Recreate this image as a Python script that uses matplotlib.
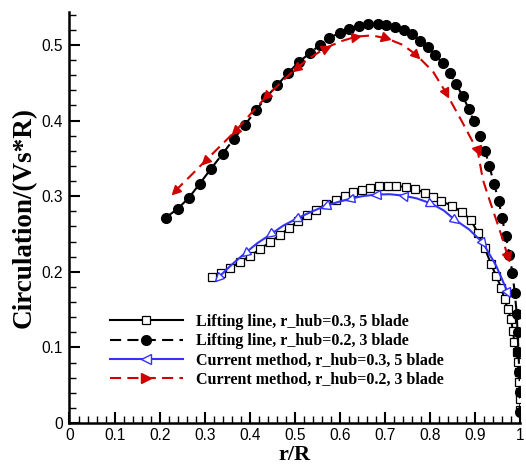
import numpy as np
import matplotlib
matplotlib.use("Agg")
import matplotlib.pyplot as plt
from matplotlib.lines import Line2D
from matplotlib.markers import MarkerStyle
from matplotlib.transforms import Affine2D

plt.rcParams['lines.scale_dashes'] = False

# ---- data ----
ll3_r = [0.315, 0.3349, 0.357, 0.3776, 0.3998, 0.4219, 0.4441, 0.4662, 0.4868, 0.5068,
         0.5267, 0.5475, 0.5697, 0.5903, 0.6102, 0.6286, 0.6485, 0.6671, 0.6862, 0.7061,
         0.7247, 0.7453, 0.7652, 0.7874, 0.8058, 0.8244, 0.8472, 0.8693, 0.8893, 0.9054,
         0.9203, 0.9351, 0.9462, 0.9572, 0.9646, 0.9719, 0.9794, 0.983, 0.9867, 0.9918,
         0.994, 0.9962, 0.9978, 0.999, 0.9995, 0.9999]
ll3_g = [0.1935, 0.1988, 0.2054, 0.2128, 0.2207, 0.2296, 0.2392, 0.248, 0.2582, 0.2669,
         0.2751, 0.2823, 0.2893, 0.2946, 0.2999, 0.3051, 0.3087, 0.3113, 0.3131, 0.314,
         0.3131, 0.3123, 0.3096, 0.3047, 0.2991, 0.2933, 0.2876, 0.279, 0.2691, 0.2516,
         0.2318, 0.2098, 0.1943, 0.179, 0.1636, 0.1504, 0.1372, 0.1218, 0.1065, 0.0933,
         0.0801, 0.0669, 0.0537, 0.0405, 0.0317, 0.0175]

ll2_r = [0.213, 0.2397, 0.2647, 0.289, 0.3134, 0.3393, 0.3643, 0.3898, 0.4131, 0.4368,
         0.4611, 0.4846, 0.5083, 0.5327, 0.5548, 0.5754, 0.5991, 0.6197, 0.6419, 0.6627,
         0.6833, 0.7026, 0.7216, 0.7409, 0.7593, 0.7779, 0.7947, 0.8111, 0.8272, 0.8428,
         0.8576, 0.8715, 0.8855, 0.8966, 0.9099, 0.9218, 0.9313, 0.9413, 0.9517, 0.959,
         0.9674, 0.9756, 0.9823, 0.9874, 0.9918, 0.9935, 0.9955, 0.9975, 0.999, 1.0]
ll2_g = [0.2714, 0.2832, 0.2978, 0.3166, 0.336, 0.3558, 0.3756, 0.3947, 0.4133, 0.431,
         0.4472, 0.4627, 0.4772, 0.489, 0.4996, 0.5088, 0.5162, 0.5211, 0.5255, 0.5277,
         0.5281, 0.5268, 0.5241, 0.5194, 0.5141, 0.5057, 0.4974, 0.4868, 0.4759, 0.4627,
         0.4482, 0.4323, 0.4156, 0.3988, 0.3796, 0.3592, 0.3394, 0.316, 0.2942, 0.2714,
         0.2471, 0.2223, 0.1979, 0.1715, 0.1438, 0.1197, 0.0933, 0.0669, 0.0405, 0.0141]

cm3_r = [0.3296, 0.359, 0.3887, 0.417, 0.4456, 0.474, 0.5032, 0.535, 0.5659, 0.594,
         0.6213, 0.65, 0.6804, 0.71, 0.7393, 0.77, 0.8022, 0.83, 0.8538, 0.886,
         0.9165, 0.946, 0.9719]
cm3_g = [0.1922, 0.209, 0.2243, 0.238, 0.2493, 0.261, 0.2701, 0.279, 0.2867, 0.292,
         0.2964, 0.300, 0.3021, 0.3025, 0.3008, 0.297, 0.2902, 0.281, 0.2691, 0.256,
         0.2384, 0.208, 0.1724]
cm3_marks = [0, 2, 4, 6, 8, 10, 12, 14, 16, 18, 20, 22]

cm2_r = [0.2337, 0.267, 0.3001, 0.334, 0.3677, 0.402, 0.4368, 0.47, 0.5032, 0.536,
         0.5697, 0.603, 0.6361, 0.67, 0.7026, 0.739, 0.769, 0.806, 0.8354, 0.872,
         0.9054, 0.9165, 0.931, 0.946, 0.9608, 0.9719]
cm2_g = [0.3065, 0.326, 0.346, 0.366, 0.3859, 0.409, 0.4318, 0.451, 0.4693, 0.484,
         0.4964, 0.505, 0.511, 0.5125, 0.5088, 0.500, 0.4868, 0.4648, 0.4363, 0.3967,
         0.3592, 0.322, 0.2955, 0.269, 0.2427, 0.2199]
cm2_marks = [0, 2, 4, 6, 8, 10, 12, 14, 16, 18, 20, 25]

labels = ["Lifting line, r_hub=0.3, 5 blade",
          "Lifting line, r_hub=0.2, 3 blade",
          "Current method, r_hub=0.3, 5 blade",
          "Current method, r_hub=0.2, 3 blade"]

x_ticks = [0, 0.1, 0.2, 0.3, 0.4, 0.5, 0.6, 0.7, 0.8, 0.9, 1]
x_ticklabels = ["0", "0.1", "0.2", "0.3", "0.4", "0.5", "0.6", "0.7", "0.8", "0.9", "1"]
y_ticks = [0, 0.1, 0.2, 0.3, 0.4, 0.5]
y_ticklabels = ["0", "0.1", "0.2", "0.3", "0.4", "0.5"]

BLUE = "#3333ff"
RED = "#d10000"
DASH = (8, 4.5)

fig = plt.figure(figsize=(5.26, 4.65), dpi=100)
ax_b = 42 / 465
ax_t = 1 - 12 / 465
ax = fig.add_axes([0.1321, ax_b, 0.8574, ax_t - ax_b])
ax.set_xlim(0, 1.0)
ax.set_ylim(0, 0.5435)

# lifting line curves
ax.plot(ll3_r, ll3_g, color="black", lw=1.5, marker="s", ms=5.6,
        mfc="white", mec="black", mew=0.9, zorder=3)
ax.plot(ll2_r, ll2_g, color="black", lw=1.5, dashes=DASH, marker="o", ms=7,
        mfc="black", mec="black", zorder=4)

# current method curves
ax.plot(cm3_r, cm3_g, color=BLUE, lw=1.5, zorder=5)
ax.plot(cm2_r, cm2_g, color=RED, lw=1.5, dashes=DASH, zorder=5)

fig.canvas.draw()

def arrow_markers(xs, ys, idx, backward_test, color, filled):
    pts = ax.transData.transform(np.column_stack([xs, ys]))
    n = len(xs)
    for i in idx:
        a = max(i - 1, 0)
        b = min(i + 1, n - 1)
        dx = pts[b, 0] - pts[a, 0]
        dy = pts[b, 1] - pts[a, 1]
        ang = np.degrees(np.arctan2(dy, dx))
        slope = (ys[b] - ys[a]) / (xs[b] - xs[a])
        if backward_test(slope):
            ang += 180
        m = MarkerStyle(">", transform=Affine2D().rotate_deg(ang))
        ax.plot([xs[i]], [ys[i]], linestyle="none", marker=m, ms=6.5,
                mfc=color if filled else "white", mec=color, mew=1.0, zorder=6)

arrow_markers(cm2_r, cm2_g, cm2_marks, lambda s: s > 0.4, RED, True)
arrow_markers(cm3_r, cm3_g, cm3_marks, lambda s: s > -0.2, BLUE, False)

# axes styling
for s in ["top", "right"]:
    ax.spines[s].set_visible(False)
for s in ["left", "bottom"]:
    ax.spines[s].set_linewidth(1.8)

ax.set_xticks(x_ticks)
ax.set_xticklabels(x_ticklabels)
ax.set_yticks(y_ticks)
ax.set_yticklabels(y_ticklabels)
ax.set_xticks(np.arange(0, 1.0001, 0.02), minor=True)
ax.set_yticks(np.arange(0, 0.5401, 0.02), minor=True)
ax.tick_params(which="major", direction="in", length=7.7, width=1.5,
               labelsize=11.2, pad=5)
ax.tick_params(axis="x", which="major", pad=3.6)
ax.tick_params(which="minor", direction="in", length=4.8, width=1.0)
for lab in ax.get_xticklabels() + ax.get_yticklabels():
    lab.set_family("Liberation Sans")

ax.set_xlabel("r/R", family="Liberation Serif", fontweight="bold", fontsize=16,
              va="bottom")
ax_h_px = (ax_t - ax_b) * 465
ax_b_px = ax_b * 465
ax.xaxis.set_label_coords(0.5, (0.5 - ax_b_px) / ax_h_px)
ax.set_ylabel("Circulation/(Vs*R)", family="Liberation Serif", fontweight="bold",
              fontsize=19.5, labelpad=3)

handles = [
    Line2D([], [], color="black", lw=1.5, marker="s", ms=5.6, mfc="white", mec="black", mew=0.9),
    Line2D([], [], color="black", lw=1.5, dashes=DASH, marker="o", ms=7, mfc="black"),
    Line2D([], [], color=BLUE, lw=1.5, marker="<", ms=6.5, mfc="white", mec=BLUE),
    Line2D([], [], color=RED, lw=1.5, dashes=DASH, marker=">", ms=6.5, mfc=RED, mec=RED),
]
leg = ax.legend(handles, labels, loc="upper left", bbox_to_anchor=(110 / 526, 1 - 314 / 465),
                bbox_transform=fig.transFigure, frameon=False, borderpad=0, borderaxespad=0,
                handlelength=4.56, handletextpad=0.8, labelspacing=0.2,
                prop={"family": "Liberation Serif", "weight": "bold", "size": 11.5})

fig.savefig("out.png", dpi=100)
